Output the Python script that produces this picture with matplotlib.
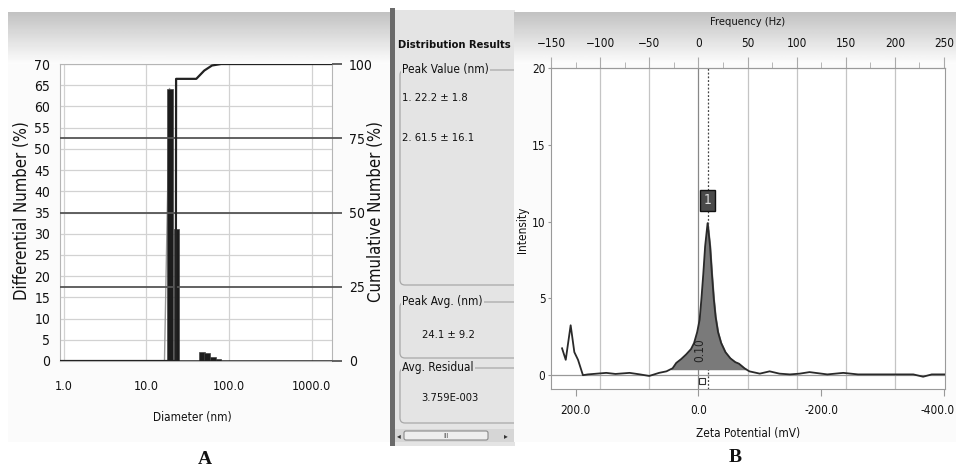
import matplotlib
matplotlib.use('Agg')
import matplotlib.pyplot as plt
import numpy as np
from matplotlib import font_manager
from matplotlib.patches import Rectangle, FancyBboxPatch
from matplotlib.ticker import MultipleLocator, NullLocator
from matplotlib.transforms import ScaledTranslation

# ---- data: panel A (size distribution) ----
bar_diam = [19.2, 23.3, 47, 54, 64, 75]
bar_pct = [64.2, 31.2, 2.1, 1.8, 1.0, 0.45]
rise_diam = [16.5, 19.0]
rise_pct = [0, 64.2]
cum_diam = [0.9, 16.5, 22.6, 22.8, 40, 50, 62, 80, 1750]
cum_pct = [0, 0, 0, 95, 95, 97.8, 99.5, 100, 100]
a_xticks = [1, 10, 100, 1000]
a_xlabels = ['1.0', '10.0', '100.0', '1000.0']

# ---- side panel results ----
peak_values = ['1. 22.2 \u00b1 1.8', '2. 61.5 \u00b1 16.1']
peak_avg = '24.1 \u00b1 9.2'
avg_residual = '3.759E-003'

# ---- data: panel B (zeta potential) ----
zeta = [222, 216, 208, 202, 196, 188, 180, 165, 150, 135, 112, 95, 80, 64,
        52, 42, 36, 28, 20, 12, 7, 2, -2, -5, -8, -11, -15, -19, -22, -25,
        -28, -32, -37, -44, -52, -60, -66, -75, -83, -100, -116,
        -132, -149, -165, -181, -210, -236, -260, -290, -320, -350, -366,
        -380, -402]
intensity = [1.75, 1.0, 3.25, 1.5, 1.0, 0.0, 0.05, 0.1, 0.15, 0.08, 0.15,
             0.05, -0.05, 0.15, 0.25, 0.45, 0.8, 1.05, 1.35, 1.7, 2.1, 2.8,
             3.6, 5.0, 6.6, 8.4, 9.9, 8.4, 6.6, 5.0, 3.8, 2.8, 2.1, 1.5, 1.1,
             0.85, 0.75, 0.45, 0.25, 0.1, 0.25, 0.1, 0.05, 0.1, 0.2, 0.05,
             0.15, 0.05, 0.05, 0.05, 0.05, -0.1, 0.05, 0.05]
peak_zeta = -15
mv_per_hz = 1.6
freq_ticks = [-150, -100, -50, 0, 50, 100, 150, 200, 250]
b_xticks = [200, 0, -200, -400]
b_xlabels = ['200.0', '0.0', '-200.0', '-400.0']


def pick(names):
    for n in names:
        try:
            font_manager.findfont(font_manager.FontProperties(family=n),
                                  fallback_to_default=False)
            return n
        except ValueError:
            pass
    return 'DejaVu Sans'


narrow = pick(['Liberation Sans Narrow', 'DejaVu Sans'])
serif = pick(['Liberation Serif', 'DejaVu Serif'])
plt.rcParams['font.family'] = [narrow, 'DejaVu Sans']
plt.rcParams['font.stretch'] = 'condensed'

W, H = 956, 470
fig = plt.figure(figsize=(9.56, 4.70), dpi=100)
fig.patch.set_facecolor('white')

# background canvas in pixel coords
bg = fig.add_axes([0, 0, 1, 1])
bg.set_xlim(0, W)
bg.set_ylim(H, 0)
bg.axis('off')


def grad(x0, x1, y0, y1, c0, c1, z=1):
    g = np.linspace(c0, c1, 64).reshape(-1, 1)
    bg.imshow(g, cmap='gray', vmin=0, vmax=1, extent=(x0, x1, y1, y0),
              aspect='auto', interpolation='bilinear', zorder=z)


# panel A frame
bg.add_patch(Rectangle((8, 12), 382, 430, fc='#fbfbfb', ec='none', zorder=0))
grad(8, 390, 12, 64, 0.76, 0.99)
# separator + side panel
bg.add_patch(Rectangle((390, 8), 5, 438, fc='#6a6a6a', ec='none', zorder=1))
bg.add_patch(Rectangle((395, 10), 120, 436, fc='#e4e4e4', ec='none', zorder=1))

for (y0, y1, title) in [(70, 285, 'Peak Value (nm)'), (302, 358, 'Peak Avg. (nm)'),
                        (368, 423, 'Avg. Residual')]:
    bg.add_patch(FancyBboxPatch((400, y0), 125, y1 - y0,
                                boxstyle='round,pad=0,rounding_size=5',
                                fc='none', ec='#a8a8a8', lw=0.9, zorder=2))
    bg.text(402, y0, title, fontsize=8.5, ha='left', va='center', color='#111',
            bbox=dict(fc='#e4e4e4', ec='none', pad=1), zorder=2.5)

bg.text(398, 45, 'Distribution Results', fontsize=8, fontweight='bold',
        ha='left', va='center', color='#111', zorder=2.5)
for i, s in enumerate(peak_values):
    bg.text(402, 98 + 40 * i, s, fontsize=8, ha='left', va='center',
            color='#111', zorder=2.5)
bg.text(448, 335, peak_avg, fontsize=8, ha='center', va='center', color='#111', zorder=2.5)
bg.text(450, 398, avg_residual, fontsize=8, ha='center', va='center', color='#111', zorder=2.5)

# scrollbar
bg.add_patch(Rectangle((395, 429), 120, 13, fc='#d6d6d6', ec='none', zorder=2))
bg.add_patch(FancyBboxPatch((404, 431), 84, 9, boxstyle='round,pad=0,rounding_size=2',
                            fc='#eeeeee', ec='#8a8a8a', lw=0.8, zorder=2.2))
bg.text(446, 435.5, 'III', fontsize=5, ha='center', va='center', color='#555', zorder=2.5)
bg.text(399, 435.5, '\u25c2', fontsize=6, ha='center', va='center', color='#333',
        family='DejaVu Sans', zorder=2.5)
bg.text(506, 435.5, '\u25b8', fontsize=6, ha='center', va='center', color='#333',
        family='DejaVu Sans', zorder=2.5)

# panel B frame
bg.add_patch(Rectangle((514, 12), 442, 430, fc='#fbfbfb', ec='none', zorder=3))
grad(514, 956, 12, 64, 0.76, 0.99, z=3.1)

# ---- panel A ----
axA = fig.add_axes([60 / W, 1 - 361 / H, 272 / W, 297 / H])
axA.set_facecolor('white')
axA.set_xscale('log')
axA.set_xlim(0.9, 1750)
axA.set_ylim(0, 70)
axA.set_xticks(a_xticks)
axA.set_xticklabels(a_xlabels)
axA.xaxis.set_minor_locator(NullLocator())
axA.set_yticks(range(0, 71, 5))
axA.grid(True, color='#d2d2d2', lw=0.9)
axA.set_axisbelow(True)
axA.tick_params(axis='x', length=0, labelsize=9, colors='#111', pad=14)
axA.tick_params(axis='y', length=0, labelsize=10, colors='#111', pad=7)
for s in axA.spines.values():
    s.set_color('#b5b5b5')

axA.bar(bar_diam, bar_pct, width=[d * 0.15 for d in bar_diam],
        color='#1c1c1c', edgecolor='#444', lw=0.5, zorder=3)
axA.plot(rise_diam, rise_pct, color='#999', lw=1, zorder=2)

axA2 = axA.twinx()
axA2.set_ylim(0, 100)
axA2.set_yticks([0, 25, 50, 75, 100])
axA2.tick_params(axis='y', direction='out', length=7, width=1.3, color='#555',
                 labelsize=10, pad=5, labelcolor='#111')
for s in axA2.spines.values():
    s.set_visible(False)
for y in [25, 50, 75]:
    axA2.axhline(y, color='#555', lw=1.3, zorder=2)
axA2.axhline(0, color='#222', lw=1.8, zorder=2)
axA2.plot(cum_diam, cum_pct, color='#222', lw=1.6, zorder=4)

bg.text(22, 211, 'Differential Number (%)', rotation=90, fontsize=12,
        ha='center', va='center', color='#111')
bg.text(376, 211, 'Cumulative Number (%)', rotation=90, fontsize=12,
        ha='center', va='center', color='#111')
bg.text(192, 418, 'Diameter (nm)', fontsize=8.5, ha='center', va='center', color='#111')
bg.text(205, 460, 'A', fontsize=14, fontweight='bold', family=serif,
        ha='center', va='center', color='#111')

# ---- panel B ----
axB = fig.add_axes([551 / W, 1 - 389 / H, 394 / W, 321 / H])
axB.set_facecolor('white')
axB.set_xlim(240, -401.6)
axB.set_ylim(-0.9, 20)
axB.set_yticks([0, 5, 10, 15, 20])
axB.set_xticks(b_xticks)
axB.set_xticklabels(b_xlabels)
axB.tick_params(axis='x', direction='out', length=5, color='#999',
                labelsize=8.5, pad=6, labelcolor='#111')
axB.tick_params(axis='y', direction='out', length=2, color='#999',
                labelsize=8.5, pad=2, labelcolor='#111')
last = axB.get_xticklabels()[-1]
last.set_ha('right')
last.set_transform(last.get_transform() + ScaledTranslation(11 / 100, 0, fig.dpi_scale_trans))
for s in axB.spines.values():
    s.set_color('#9a9a9a')

top = axB.secondary_xaxis('top', functions=(lambda z: -np.asarray(z) / mv_per_hz,
                                             lambda f: -np.asarray(f) * mv_per_hz))
top.set_xticks(freq_ticks)
top.xaxis.set_minor_locator(MultipleLocator(25))
top.tick_params(which='major', direction='out', length=8, color='#aaa',
                labelsize=8.5, pad=5, labelcolor='#111')
top.tick_params(which='minor', direction='out', length=4, color='#aaa')
top.spines['top'].set_color('#9a9a9a')

for f in freq_ticks[1:-1]:
    axB.axvline(-f * mv_per_hz, color='#888' if f == 0 else '#c4c4c4',
                lw=0.9, zorder=1)
axB.axhline(0, color='#999', lw=0.9, zorder=1)
axB.axvline(peak_zeta, color='#444', lw=0.9, ls=(0, (1.5, 1.5)), zorder=2)

z = np.array(zeta)
iv = np.array(intensity)
axB.fill_between(z, iv, 0.4, where=(z <= 42) & (z >= -75) & (iv >= 0.4),
                 color='#7a7a7a', zorder=2, interpolate=True)
axB.plot(z, iv, color='#2a2a2a', lw=1.3, zorder=3)

axB.text(peak_zeta, 11.4, '1', fontsize=10, ha='center', va='center', color='#ddd',
         bbox=dict(boxstyle='square,pad=0.25', fc='#4a4a4a', ec='#111', lw=1),
         zorder=4)
axB.text(-2, 1.6, '0.10', rotation=90, fontsize=8.5, ha='center', va='center',
         color='#222', zorder=4)
axB.plot([-6], [-0.4], marker='s', ms=5, mfc='white', mec='#333', mew=0.8,
         zorder=4)

bg.text(748, 22, 'Frequency (Hz)', fontsize=8, ha='center', va='center',
        color='#111', zorder=4)
bg.text(523, 230, 'Intensity', rotation=90, fontsize=8.5, ha='center',
        va='center', color='#111', zorder=4)
bg.text(748, 434, 'Zeta Potential (mV)', fontsize=8.5, ha='center', va='center',
        color='#111', zorder=4)
bg.text(735, 458, 'B', fontsize=14, fontweight='bold', family=serif,
        ha='center', va='center', color='#111', zorder=4)

bg.set_xlim(0, W)
bg.set_ylim(H, 0)
fig.savefig('out.png', dpi=100, facecolor='white')
